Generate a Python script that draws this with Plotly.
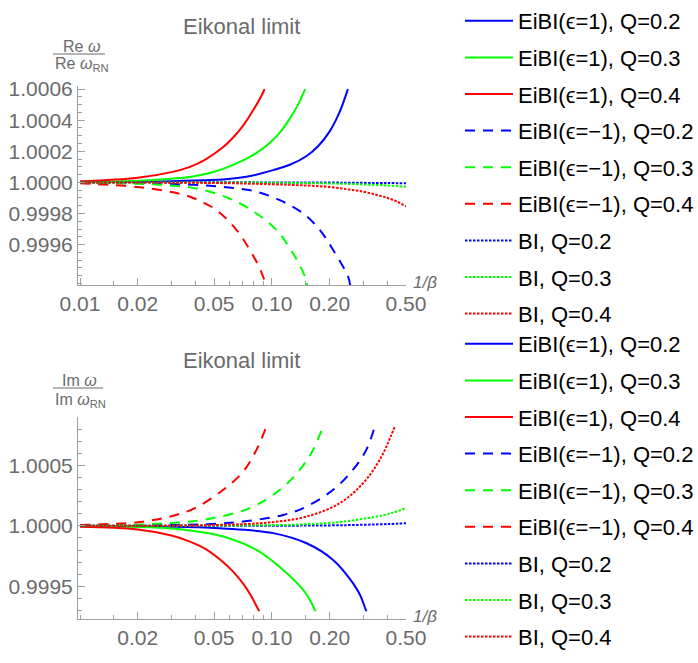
import plotly.graph_objects as go

# ---------------- data ----------------
legend_names = ["EiBI(ϵ=1), Q=0.2", "EiBI(ϵ=1), Q=0.3", "EiBI(ϵ=1), Q=0.4",
                "EiBI(ϵ=−1), Q=0.2", "EiBI(ϵ=−1), Q=0.3", "EiBI(ϵ=−1), Q=0.4",
                "BI, Q=0.2", "BI, Q=0.3", "BI, Q=0.4"]
series_colors = ["#0000FF", "#00FF00", "#FF0000"] * 3
series_dash = ["solid"] * 3 + ["10px,8px"] * 3 + ["2.5px,1.5px"] * 3

# Top panel: Re omega / Re omega_RN
re_x_eibi_p_q02 = [0.01, 0.02, 0.03, 0.045, 0.0558, 0.075, 0.1016, 0.125, 0.1517, 0.175, 0.2005, 0.225, 0.249]
re_y_eibi_p_q02 = [1.000001, 1.000004, 1.000008, 1.000014, 1.000019, 1.000038, 1.000079, 1.000115, 1.00017, 1.000236, 1.00033, 1.00045, 1.0006]
re_x_eibi_p_q03 = [0.01, 0.02, 0.03, 0.0374, 0.05, 0.0681, 0.0832, 0.0976, 0.11, 0.124, 0.137, 0.149]
re_y_eibi_p_q03 = [1.000003, 1.000011, 1.000024, 1.000035, 1.000068, 1.000132, 1.00019, 1.000255, 1.00032, 1.00041, 1.0005, 1.0006]
re_x_eibi_p_q04 = [0.01, 0.02, 0.03, 0.0374, 0.045, 0.0558, 0.063, 0.071, 0.08, 0.0901, 0.0915]
re_y_eibi_p_q04 = [1.000007, 1.00003, 1.000066, 1.0001, 1.000147, 1.000227, 1.00029, 1.000367, 1.000465, 1.00058, 1.0006]
re_x_eibi_m_q02 = [0.01, 0.02, 0.03, 0.0457, 0.0629, 0.0832, 0.110, 0.1456, 0.178, 0.2086, 0.2497, 0.256]
re_y_eibi_m_q02 = [0.999999, 0.999995, 0.999989, 0.99998, 0.999964, 0.99994, 0.999886, 0.9998, 0.999693, 0.999565, 0.999393, 0.999335]
re_x_eibi_m_q03 = [0.01, 0.02, 0.03, 0.0374, 0.0475, 0.0629, 0.0832, 0.1058, 0.129, 0.149, 0.153]
re_y_eibi_m_q03 = [0.999998, 0.999991, 0.99998, 0.999968, 0.99994, 0.999886, 0.9998, 0.999693, 0.999543, 0.999393, 0.999335]
re_x_eibi_m_q04 = [0.01, 0.02, 0.03, 0.0374, 0.043, 0.0515, 0.0655, 0.0768, 0.0855, 0.0901, 0.094]
re_y_eibi_m_q04 = [0.999994, 0.99997, 0.999938, 0.999908, 0.999876, 0.999822, 0.999693, 0.999565, 0.99946, 0.999393, 0.999335]
re_x_bi_q02 = [0.01, 0.1, 0.2, 0.3, 0.4, 0.5]
re_y_bi_q02 = [1.0, 1.0, 0.999999, 0.999997, 0.999996, 0.999994]
re_x_bi_q03 = [0.01, 0.05, 0.1, 0.2, 0.3, 0.4, 0.5]
re_y_bi_q03 = [1.0, 0.9999995, 0.999998, 0.999993, 0.999987, 0.99998, 0.999972]
re_x_bi_q04 = [0.01, 0.05, 0.1, 0.15, 0.2, 0.25, 0.3, 0.35, 0.4, 0.45, 0.5]
re_y_bi_q04 = [1.0, 0.999996, 0.999988, 0.99998, 0.99997, 0.999955, 0.99994, 0.99992, 0.9999, 0.999876, 0.999845]

# Bottom panel: Im omega / Im omega_RN
im_x_eibi_p_q02 = [0.01, 0.02, 0.03, 0.0558, 0.1016, 0.1517, 0.2086, 0.265, 0.29, 0.309, 0.312]
im_y_eibi_p_q02 = [1.0, 0.999997, 0.999993, 0.999978, 0.99994, 0.999856, 0.999718, 0.999525, 0.99942, 0.999304, 0.999295]
im_x_eibi_p_q03 = [0.01, 0.02, 0.03, 0.0374, 0.0558, 0.0832, 0.1146, 0.1456, 0.16, 0.1675, 0.169]
im_y_eibi_p_q03 = [0.999998, 0.99999, 0.999978, 0.999961, 0.999912, 0.999801, 0.999635, 0.99947, 0.99937, 0.999304, 0.999295]
im_x_eibi_p_q04 = [0.01, 0.02, 0.03, 0.0374, 0.045, 0.0558, 0.063, 0.071, 0.078, 0.0848, 0.086]
im_y_eibi_p_q04 = [0.999992, 0.99997, 0.99992, 0.99987, 0.99981, 0.9997, 0.99962, 0.99952, 0.99942, 0.99931, 0.999295]
im_x_eibi_m_q02 = [0.01, 0.02, 0.03, 0.0604, 0.1146, 0.1517, 0.2086, 0.265, 0.311, 0.344]
im_y_eibi_m_q02 = [1.0, 1.000003, 1.000007, 1.000025, 1.00009, 1.00016, 1.000298, 1.000464, 1.00063, 1.000823]
im_x_eibi_m_q03 = [0.01, 0.02, 0.03, 0.0439, 0.0768, 0.110, 0.140, 0.164, 0.185]
im_y_eibi_m_q03 = [1.000003, 1.00001, 1.000024, 1.00005, 1.000147, 1.000298, 1.000464, 1.00063, 1.000823]
im_x_eibi_m_q04 = [0.01, 0.02, 0.03, 0.0397, 0.0558, 0.071, 0.0832, 0.0937]
im_y_eibi_m_q04 = [1.000008, 1.00003, 1.00008, 1.000147, 1.000298, 1.00045, 1.00063, 1.000823]
im_x_bi_q02 = [0.01, 0.1, 0.2, 0.3, 0.4, 0.5]
im_y_bi_q02 = [1.0, 1.000001, 1.000004, 1.000009, 1.000015, 1.000022]
im_x_bi_q03 = [0.01, 0.1, 0.15, 0.226, 0.337, 0.42, 0.5]
im_y_bi_q03 = [1.0, 1.000006, 1.000013, 1.000032, 1.000072, 1.000105, 1.000147]
im_x_bi_q04 = [0.01, 0.05, 0.1, 0.1517, 0.226, 0.299, 0.365, 0.4375]
im_y_bi_q04 = [1.0, 1.000007, 1.00003, 1.000077, 1.000188, 1.000354, 1.000547, 1.000823]

x_major_ticks_top = [0.01, 0.02, 0.05, 0.1, 0.2, 0.5]
x_major_labels_top = ["0.01", "0.02", "0.05", "0.10", "0.20", "0.50"]
x_major_ticks_bot = [0.02, 0.05, 0.1, 0.2, 0.5]
x_major_labels_bot = ["0.02", "0.05", "0.10", "0.20", "0.50"]
x_minor_ticks = [0.015, 0.03, 0.04, 0.06, 0.07, 0.08, 0.09, 0.15, 0.3, 0.4]
y_ticks_top = [0.9996, 0.9998, 1.0, 1.0002, 1.0004, 1.0006]
y_ticks_bot = [0.9995, 1.0, 1.0005]

top_series = [(re_x_eibi_p_q02, re_y_eibi_p_q02), (re_x_eibi_p_q03, re_y_eibi_p_q03), (re_x_eibi_p_q04, re_y_eibi_p_q04),
              (re_x_eibi_m_q02, re_y_eibi_m_q02), (re_x_eibi_m_q03, re_y_eibi_m_q03), (re_x_eibi_m_q04, re_y_eibi_m_q04),
              (re_x_bi_q02, re_y_bi_q02), (re_x_bi_q03, re_y_bi_q03), (re_x_bi_q04, re_y_bi_q04)]
bot_series = [(im_x_eibi_p_q02, im_y_eibi_p_q02), (im_x_eibi_p_q03, im_y_eibi_p_q03), (im_x_eibi_p_q04, im_y_eibi_p_q04),
              (im_x_eibi_m_q02, im_y_eibi_m_q02), (im_x_eibi_m_q03, im_y_eibi_m_q03), (im_x_eibi_m_q04, im_y_eibi_m_q04),
              (im_x_bi_q02, im_y_bi_q02), (im_x_bi_q03, im_y_bi_q03), (im_x_bi_q04, im_y_bi_q04)]

# ---------------- figure ----------------
W, H = 698, 663
FONT = "Liberation Sans, Arial, sans-serif"
GRAY_TXT = "#6b6b6b"
AX = "#a0a0a0"

fig = go.Figure()
for i, (xs, ys) in enumerate(top_series):
    fig.add_trace(go.Scatter(x=xs, y=ys, mode="lines", name=legend_names[i],
                             line=dict(color=series_colors[i], width=2, dash=series_dash[i], shape="spline"),
                             xaxis="x", yaxis="y", legend="legend", legendgroup=f"t{i}"))
for i, (xs, ys) in enumerate(bot_series):
    fig.add_trace(go.Scatter(x=xs, y=ys, mode="lines", name=legend_names[i],
                             line=dict(color=series_colors[i], width=2, dash=series_dash[i], shape="spline"),
                             xaxis="x2", yaxis="y2", legend="legend2", legendgroup=f"b{i}"))

ml, mr = 78, 292
top_px, bot_px = (86, 285), (417, 619)
dom = lambda a, b: [1 - b / H, 1 - a / H]

axis_common = dict(showline=True, linecolor=AX, linewidth=1, ticks="inside", tickcolor=AX,
                   ticklen=7, tickwidth=1, showgrid=False, zeroline=False,
                   tickfont=dict(size=21, color=GRAY_TXT, family=FONT))

legend_common = dict(xref="container", yref="container", xanchor="left", yanchor="top", itemwidth=48,
                     font=dict(size=22, color="black", family=FONT), tracegroupgap=5,
                     bgcolor="rgba(0,0,0,0)", maxheight=H)

fig.update_layout(
    width=W, height=H, plot_bgcolor="white", paper_bgcolor="white",
    margin=dict(l=ml, r=mr, t=0, b=0, autoexpand=False),
    font=dict(family=FONT),
    xaxis=dict(type="log", domain=[0, 1], anchor="y", range=[-2.0104, -0.301],
               tickmode="array", tickvals=x_major_ticks_top, ticktext=x_major_labels_top,
               minor=dict(tickmode="array", tickvals=x_minor_ticks, ticklen=4, tickcolor=AX, ticks="inside"),
               **axis_common),
    yaxis=dict(domain=dom(*top_px), anchor="x", range=[1 - 0.00066, 1 + 0.00062],
               tickmode="array", tickvals=y_ticks_top, tickformat=".4f",
               minor=dict(dtick=0.00005, tick0=1.0, ticklen=4, tickcolor=AX, ticks="inside"),
               **axis_common),
    xaxis2=dict(type="log", domain=[0, 1], anchor="y2", range=[-2.0104, -0.301],
                tickmode="array", tickvals=x_major_ticks_bot, ticktext=x_major_labels_bot,
                minor=dict(tickmode="array", tickvals=[0.01] + x_minor_ticks, ticklen=4, tickcolor=AX, ticks="inside"),
                **axis_common),
    yaxis2=dict(domain=dom(*bot_px), anchor="x2", range=[1 - 0.00077, 1 + 0.0009],
                tickmode="array", tickvals=y_ticks_bot, tickformat=".4f",
                minor=dict(dtick=0.0001, tick0=1.0, ticklen=4, tickcolor=AX, ticks="inside"),
                **axis_common),
    legend=dict(x=460 / W, y=1.0, **legend_common),
    legend2=dict(x=460 / W, y=1 - 323 / H, **legend_common),
    showlegend=True,
)

def ann(text, xpx, ypx, size, xanchor="center", color=GRAY_TXT):
    fig.add_annotation(text=text, xref="paper", yref="paper",
                       x=(xpx - ml) / (W - ml - mr), y=1 - ypx / H, xanchor=xanchor, yanchor="middle",
                       showarrow=False, font=dict(size=size, color=color, family=FONT))

# titles
ann("Eikonal limit", 241, 27, 22)
ann("Eikonal limit", 241, 361, 22)
# axis labels (fractions)
ann("Re <i>ω</i>", 81, 47, 16)
ann("Re <i>ω</i><sub>RN</sub>", 82, 65, 16)
ann("Im <i>ω</i>", 79, 381, 16)
ann("Im <i>ω</i><sub>RN</sub>", 80, 400, 16)
for ypx, (x0, x1) in [(54, (53, 105)), (388, (53, 103))]:
    fig.add_shape(type="line", xref="paper", yref="paper",
                  x0=(x0 - ml) / (W - ml - mr), x1=(x1 - ml) / (W - ml - mr),
                  y0=1 - ypx / H, y1=1 - ypx / H, line=dict(color=GRAY_TXT, width=1))
# x-axis labels at axis end
ann("<i>1/β</i>", 411, 282, 17, xanchor="left")
ann("<i>1/β</i>", 411, 616, 17, xanchor="left")

fig.write_html("out.html", config={"displayModeBar": False},
               post_script="document.body.style.margin='0';document.body.style.overflow='hidden';")
